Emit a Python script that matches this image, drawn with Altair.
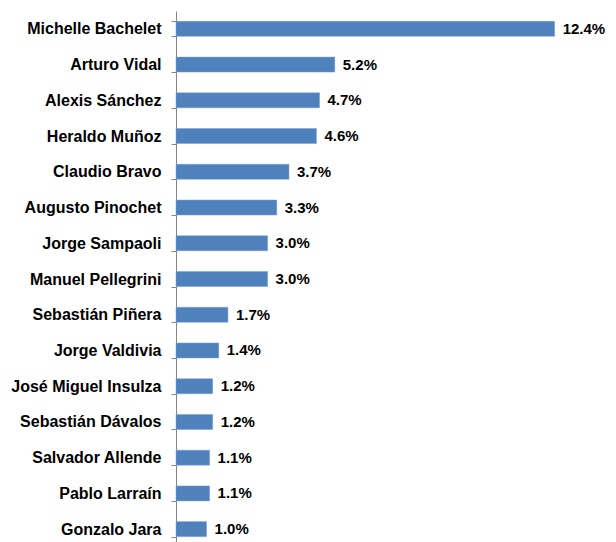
import altair as alt
import pandas as pd

names = ["Michelle Bachelet", "Arturo Vidal", "Alexis Sánchez", "Heraldo Muñoz",
         "Claudio Bravo", "Augusto Pinochet", "Jorge Sampaoli", "Manuel Pellegrini",
         "Sebastián Piñera", "Jorge Valdivia", "José Miguel Insulza", "Sebastián Dávalos",
         "Salvador Allende", "Pablo Larraín", "Gonzalo Jara"]
values = [12.4, 5.2, 4.7, 4.6, 3.7, 3.3, 3.0, 3.0, 1.7, 1.4, 1.2, 1.2, 1.1, 1.1, 1.0]

df = pd.DataFrame({"name": names, "value": values})
df["label"] = df["value"].map(lambda v: f"{v:.1f}%")

FONT = "Liberation Sans"
FS = 16

y = alt.Y("name:N", sort=names, title=None,
          scale=alt.Scale(paddingInner=0.58, paddingOuter=0.29),
          axis=alt.Axis(tickBand="extent", tickSize=5, tickColor="#868686",
                        domainColor="#868686", labelPadding=10,
                        labelFont=FONT, labelFontSize=FS, labelFontWeight="bold",
                        labelColor="#000000", labelLimit=300))
x = alt.X("value:Q", title=None, scale=alt.Scale(domain=[0, 13.1]), axis=None)

bars = alt.Chart(df).mark_bar(color="#4F81BD", stroke="#7A9FCF", strokeWidth=0.5).encode(x=x, y=y)
text = alt.Chart(df).mark_text(align="left", baseline="middle", dx=8, font=FONT,
                               fontSize=15, fontWeight="bold", color="#000000").encode(
    x=x, y=y, text="label:N")

chart = (bars + text).properties(
    width=400, height=536,
    background="white",
    autosize=alt.AutoSizeParams(type="none"),
    padding={"left": 168, "top": 3, "right": 32, "bottom": 0},
).configure_view(strokeWidth=0, stroke="transparent", clip=False)

chart.save("out.html", embed_options={"renderer": "svg", "actions": False})
